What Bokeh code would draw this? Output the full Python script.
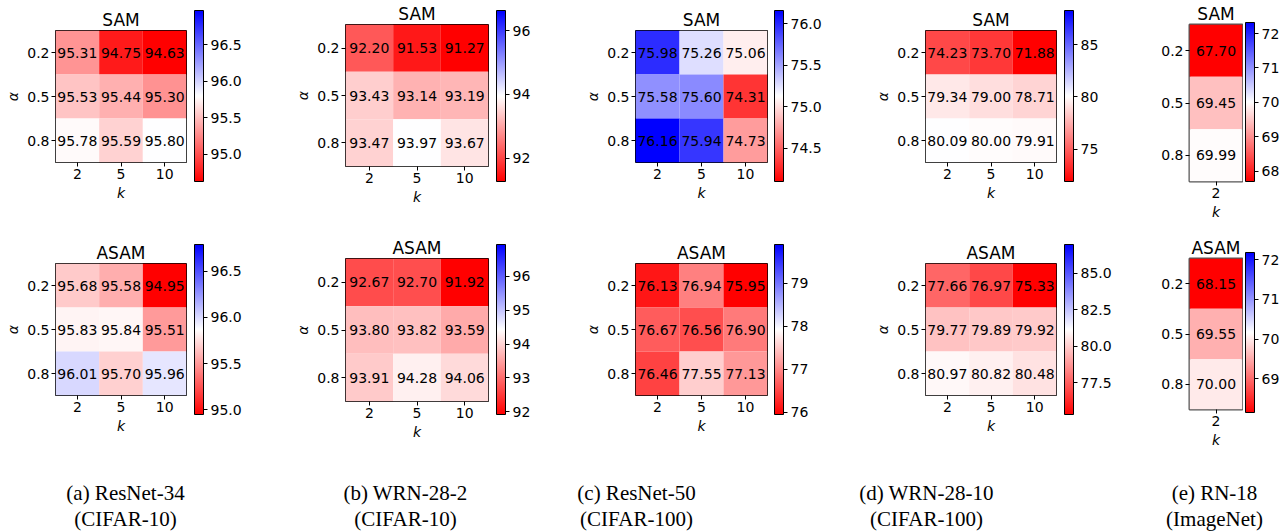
from bokeh.plotting import figure
from bokeh.models import (ColorBar, LinearColorMapper, FixedTicker, PrintfTickFormatter,
                          ColumnDataSource, Range1d, FactorRange)
from bokeh.layouts import row, column
from bokeh.embed import file_html
from bokeh.resources import INLINE
from bokeh.core.properties import value
from bokeh.transform import linear_cmap

# ---------------- data ----------------
k_cifar = ["2", "5", "10"]
k_imagenet = ["2"]
alphas = ["0.2", "0.5", "0.8"]
titles = ["SAM", "ASAM"]

resnet34_sam = [[95.31, 94.75, 94.63], [95.53, 95.44, 95.30], [95.78, 95.59, 95.80]]
resnet34_asam = [[95.68, 95.58, 94.95], [95.83, 95.84, 95.51], [96.01, 95.70, 95.96]]
wrn28_2_sam = [[92.20, 91.53, 91.27], [93.43, 93.14, 93.19], [93.47, 93.97, 93.67]]
wrn28_2_asam = [[92.67, 92.70, 91.92], [93.80, 93.82, 93.59], [93.91, 94.28, 94.06]]
resnet50_sam = [[75.98, 75.26, 75.06], [75.58, 75.60, 74.31], [76.16, 75.94, 74.73]]
resnet50_asam = [[76.13, 76.94, 75.95], [76.67, 76.56, 76.90], [76.46, 77.55, 77.13]]
wrn28_10_sam = [[74.23, 73.70, 71.88], [79.34, 79.00, 78.71], [80.09, 80.00, 79.91]]
wrn28_10_asam = [[77.66, 76.97, 75.33], [79.77, 79.89, 79.92], [80.97, 80.82, 80.48]]
rn18_sam = [[67.70], [69.45], [69.99]]
rn18_asam = [[68.15], [69.55], [70.00]]

# colour-scale limits (low, high)
resnet34_sam_lim = (94.63, 96.97)
resnet34_asam_lim = (94.95, 96.79)
wrn28_2_sam_lim = (91.27, 96.63)
wrn28_2_asam_lim = (91.92, 96.94)
resnet50_sam_lim = (74.10, 76.16)
resnet50_asam_lim = (75.95, 79.90)
wrn28_10_sam_lim = (71.88, 88.30)
wrn28_10_asam_lim = (75.33, 86.96)
rn18_sam_lim = (67.70, 72.32)
rn18_asam_lim = (68.15, 72.18)

# colour-bar tick labels
resnet34_sam_ticks = ["95.0", "95.5", "96.0", "96.5"]
resnet34_asam_ticks = ["95.0", "95.5", "96.0", "96.5"]
wrn28_2_sam_ticks = ["92", "94", "96"]
wrn28_2_asam_ticks = ["92", "93", "94", "95", "96"]
resnet50_sam_ticks = ["74.5", "75.0", "75.5", "76.0"]
resnet50_asam_ticks = ["76", "77", "78", "79"]
wrn28_10_sam_ticks = ["75", "80", "85"]
wrn28_10_asam_ticks = ["77.5", "80.0", "82.5", "85.0"]
rn18_sam_ticks = ["68", "69", "70", "71", "72"]
rn18_asam_ticks = ["69", "70", "71", "72"]

captions_line1 = ["(a) ResNet-34", "(b) WRN-28-2", "(c) ResNet-50", "(d) WRN-28-10", "(e) RN-18"]
captions_line2 = ["(CIFAR-10)", "(CIFAR-10)", "(CIFAR-100)", "(CIFAR-100)", "(ImageNet)"]

# ---------------- styling ----------------
FONT = "DejaVu Sans"


def bwr_r(n=256):
    cols = []
    for i in range(n):
        t = i / (n - 1)
        if t < 0.5:
            c = round(255 * t / 0.5)
            r, g, b = 255, c, c
        else:
            c = round(255 * (1 - t) / 0.5)
            r, g, b = c, c, 255
        cols.append("#%02x%02x%02x" % (r, g, b))
    return cols


PALETTE = bwr_r()


def heatmap(title, ks, vals, lim, W, H, left, right, top, bottom,
            ylabel=True, outline="black", outline_w=1):
    xs, ys, vs, ts = [], [], [], []
    for i, a in enumerate(alphas):
        for j, k in enumerate(ks):
            xs.append(k)
            ys.append(a)
            vs.append(vals[i][j])
            ts.append("%.2f" % vals[i][j])
    src = ColumnDataSource(dict(k=xs, a=ys, v=vs, t=ts))
    p = figure(width=W, height=H, x_range=FactorRange(*ks),
               y_range=FactorRange(*alphas[::-1]), title=title,
               output_backend="svg", toolbar_location=None,
               min_border_left=left, min_border_right=right,
               min_border_top=top, min_border_bottom=bottom)
    p.rect(x="k", y="a", width=1, height=1, source=src,
           fill_color=linear_cmap("v", PALETTE, lim[0], lim[1]), line_color=None)
    p.text(x="k", y="a", text="t", source=src, text_align="center",
           text_baseline="middle", text_font=value(FONT), text_font_size="14px",
           text_color="black")
    p.title.align = "center"
    p.title.text_font = FONT
    p.title.text_font_size = "17px"
    p.title.text_font_style = "normal"
    p.title.text_color = "black"
    p.title.standoff = 2
    p.grid.visible = False
    p.outline_line_color = outline
    p.outline_line_width = outline_w
    for ax in (p.xaxis[0], p.yaxis[0]):
        ax.axis_line_color = None
        ax.major_tick_in = 0
        ax.major_tick_out = 4
        ax.major_tick_line_color = "black"
        ax.major_label_text_font = FONT
        ax.major_label_text_font_size = "14px"
        ax.major_label_text_color = "black"
        ax.major_label_standoff = 2
        ax.axis_label_text_font = FONT
        ax.axis_label_text_font_size = "14px"
        ax.axis_label_text_font_style = "italic"
        ax.axis_label_text_color = "black"
        ax.axis_label_standoff = 3
    p.xaxis.axis_label = "k"
    if ylabel:
        p.yaxis.axis_label = "α"
    return column(p)


def cbar(lim, tick_labels, W, H, left, right, top, bottom):
    p = figure(width=W, height=H, x_range=Range1d(0, 1), y_range=Range1d(lim[0], lim[1]),
               x_axis_type=None, y_axis_type=None, output_backend="svg",
               toolbar_location=None, min_border_left=left, min_border_right=right,
               min_border_top=top, min_border_bottom=bottom)
    p.grid.visible = False
    p.outline_line_color = None
    mapper = LinearColorMapper(palette=PALETTE, low=lim[0], high=lim[1])
    ticks = [float(s) for s in tick_labels]
    dec = len(tick_labels[0].split(".")[1]) if "." in tick_labels[0] else 0
    cb = ColorBar(color_mapper=mapper, location=(0, 0),
                  width=W - left - right, height=H - top - bottom, padding=0,
                  ticker=FixedTicker(ticks=ticks),
                  formatter=PrintfTickFormatter(format="%%.%df" % dec),
                  major_tick_in=0, major_tick_out=4, major_tick_line_color="black",
                  minor_tick_line_color=None, label_standoff=3,
                  major_label_text_font=FONT, major_label_text_font_size="14px",
                  major_label_text_color="black",
                  bar_line_color="black", bar_line_width=1,
                  border_line_color=None, background_fill_alpha=0)
    p.add_layout(cb, "center")
    return column(p)


H1, H2, H3 = 234, 216, 81

row1 = [
    heatmap(titles[0], k_cifar, resnet34_sam, resnet34_sam_lim, 190, H1, 55, 4, 30, 72),
    cbar(resnet34_sam_lim, resnet34_sam_ticks, 100, H1, 4, 87, 10, 53),
    heatmap(titles[0], k_cifar, wrn28_2_sam, wrn28_2_sam_lim, 201, H1, 55, 3, 24, 68),
    cbar(wrn28_2_sam_lim, wrn28_2_sam_ticks, 89, H1, 5, 75, 10, 53),
    heatmap(titles[0], k_cifar, resnet50_sam, resnet50_sam_lim, 190, H1, 55, 3, 30, 72),
    cbar(resnet50_sam_lim, resnet50_sam_ticks, 100, H1, 4, 87, 10, 53),
    heatmap(titles[0], k_cifar, wrn28_10_sam, wrn28_10_sam_lim, 189, H1, 55, 3, 30, 72),
    cbar(wrn28_10_sam_lim, wrn28_10_sam_ticks, 86, H1, 5, 72, 10, 53),
    heatmap(titles[0], k_imagenet, rn18_sam, rn18_sam_lim, 98, H1, 44, 1, 22, 53,
            ylabel=False, outline="#555555", outline_w=2),
    cbar(rn18_sam_lim, rn18_sam_ticks, 39, H1, 2, 28, 22, 53),
]

row2 = [
    heatmap(titles[1], k_cifar, resnet34_asam, resnet34_asam_lim, 190, H2, 55, 4, 29, 55),
    cbar(resnet34_asam_lim, resnet34_asam_ticks, 100, H2, 4, 87, 10, 36),
    heatmap(titles[1], k_cifar, wrn28_2_asam, wrn28_2_asam_lim, 201, H2, 55, 3, 24, 49),
    cbar(wrn28_2_asam_lim, wrn28_2_asam_ticks, 89, H2, 5, 75, 10, 36),
    heatmap(titles[1], k_cifar, resnet50_asam, resnet50_asam_lim, 190, H2, 55, 3, 29, 55),
    cbar(resnet50_asam_lim, resnet50_asam_ticks, 100, H2, 4, 87, 10, 36),
    heatmap(titles[1], k_cifar, wrn28_10_asam, wrn28_10_asam_lim, 189, H2, 55, 3, 29, 55),
    cbar(wrn28_10_asam_lim, wrn28_10_asam_ticks, 86, H2, 5, 72, 10, 36),
    heatmap(titles[1], k_imagenet, rn18_asam, rn18_asam_lim, 98, H2, 44, 1, 18, 38,
            ylabel=False, outline="#555555", outline_w=2),
    cbar(rn18_asam_lim, rn18_asam_ticks, 39, H2, 2, 28, 18, 38),
]

# captions
cap = figure(width=1282, height=H3, x_range=Range1d(0, 1282), y_range=Range1d(0, H3),
             x_axis_type=None, y_axis_type=None, output_backend="svg",
             toolbar_location=None, min_border=0)
cap.grid.visible = False
cap.outline_line_color = None
cap_x = [125, 405, 636, 926, 1214]
cap_src = ColumnDataSource(dict(x=cap_x + cap_x, y=[39] * 5 + [13] * 5,
                                t=captions_line1 + captions_line2))
cap.text(x="x", y="y", text="t", source=cap_src, text_align="center",
         text_baseline="middle", text_font=value("Liberation Serif"),
         text_font_size="21px", text_color="black")

layout = column(row(*row1), row(*row2), cap)
open("out.html", "w").write(file_html(layout, INLINE))
